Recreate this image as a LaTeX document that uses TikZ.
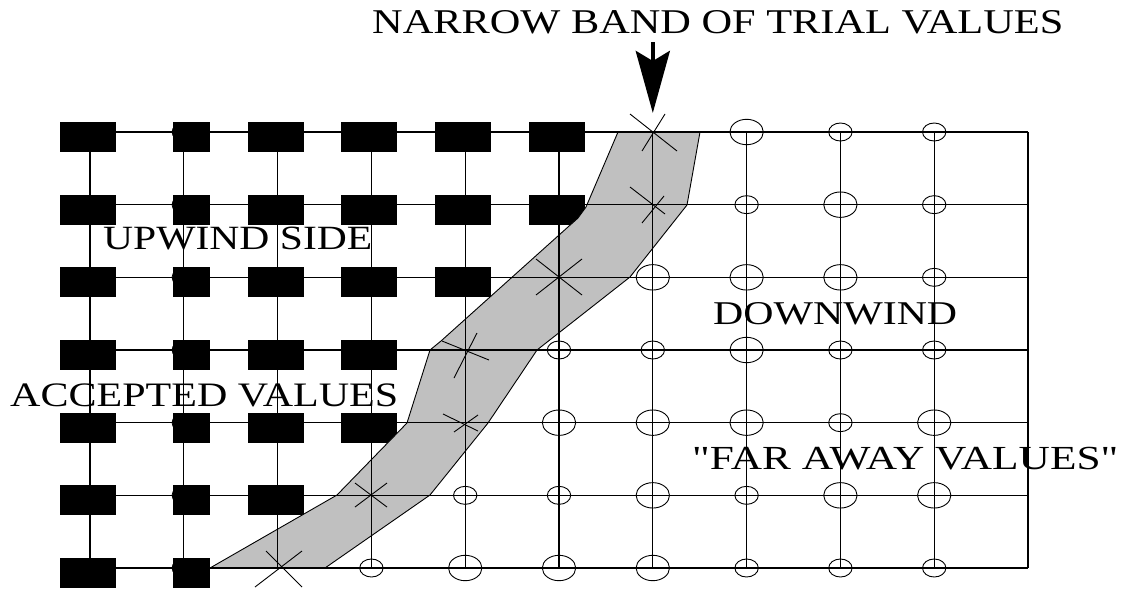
\documentclass[tikz,border=0pt]{standalone}
\usepackage{fontspec}
\usepackage{graphicx}
\setmainfont{Liberation Serif}
% same face without the TeX quote mapping, for straight quotes
\newfontfamily\straightserif{Liberation Serif}
\usetikzlibrary{arrows.meta}
\definecolor{bandgray}{RGB}{192,192,192}
% set a label to a given width and cap height
\newcommand{\fitlabel}[3]{\resizebox{#1pt}{#2pt}{#3}}

\begin{document}
\begin{tikzpicture}[x=1pt,y=-1pt,
  gridline/.style={draw=black,line width=1.1pt},
  farval/.style={draw=black,line width=0.9pt},
  trialmark/.style={draw=black,line width=0.9pt},
  band/.style={fill=bandgray,draw=black,line width=0.9pt},
  lbl/.style={inner sep=0pt,anchor=base west},
  bigarrow/.style={line width=4.5pt,-{Stealth[length=62pt,width=34pt,inset=10pt]}}]

\useasboundingbox (0,0) rectangle (1130,592);

% accepted values: solid blocks (upwind side)
\foreach \r/\n in {1/6,2/6,3/5,4/4,5/4,6/3,7/2}{
  \foreach \c in {1,...,\n}{
    \pgfmathsetmacro\cx{90+(\c-1)*93.8}
    \pgfmathsetmacro\cy{132+(\r-1)*72.667}
    \ifnum\c=2
      \draw[farval] (\cx,\cy) ellipse[x radius=11.7,y radius=9];
      \fill (\cx-11,\cy-10) rectangle (\cx+26,\cy+20);
    \else
      \fill (\cx-30,\cy-10) rectangle (\cx+26,\cy+20);
    \fi
  }
}

% narrow band of trial values
\draw[band] (618,132) -- (586,207) -- (578,218) -- (441,341) -- (430,350)
  -- (407,423) -- (337,495) -- (210,568) -- (325,568) -- (430,495)
  -- (488,423) -- (537,350) -- (630,277) -- (687,205) -- (700,132) -- cycle;

% grid
\foreach \c in {0,...,10}
  \draw[gridline] (90+\c*93.8,132) -- (90+\c*93.8,568);
\foreach \r in {0,...,6}
  \draw[gridline] (90,132+\r*72.667) -- (1028,132+\r*72.667);

% far-away values: open ellipses (L = large, S = small)
\foreach \c/\r/\s in {8/1/L,9/1/S,10/1/S,
                      8/2/S,9/2/L,10/2/S,
                      7/3/L,8/3/L,9/3/L,10/3/S,
                      6/4/S,7/4/S,8/4/L,9/4/S,10/4/S,
                      6/5/L,7/5/L,8/5/L,9/5/S,10/5/L,
                      5/6/S,6/6/S,7/6/L,8/6/S,9/6/L,10/6/L,
                      4/7/S,5/7/L,6/7/L,7/7/L,8/7/S,9/7/S,10/7/S}{
  \pgfmathsetmacro\cx{90+(\c-1)*93.8}
  \pgfmathsetmacro\cy{132+(\r-1)*72.667}
  \if L\s
    \draw[farval] (\cx,\cy) ellipse[x radius=16.7,y radius=12.7];
  \else
    \draw[farval] (\cx,\cy) ellipse[x radius=11.7,y radius=9];
  \fi
}

% trial values: crosses
\foreach \px/\py/\ax/\ay/\bx/\by/\cx/\cy/\dx/\dy in {
  653/132/-23/-18/24/19/12/-18/-11/19,
  653/205/-23/-18/12/9/11/-9/-11/18,
  559/277/-23/-18/23/18/23/-18/-23/18,
  466/351/-24/-10/23/9/11/-18/-12/27,
  466/424/-23/-10/12/7/12/-9/-12/8,
  371/495/-16/-12/16/12/16/-12/-16/12,
  281/567/-15/-16/21/20/21/-16/-26/20}{
  \draw[trialmark] (\px+\ax,\py+\ay) -- (\px+\bx,\py+\by);
  \draw[trialmark] (\px+\cx,\py+\cy) -- (\px+\dx,\py+\dy);
}

% labels
\node[lbl] (title) at (372,33) {\fitlabel{691}{23}{NARROW BAND OF TRIAL VALUES}};
\node[lbl] (upwind) at (103,249) {\fitlabel{269}{22.5}{UPWIND SIDE}};
\node[lbl] (downwind) at (713,324) {\fitlabel{244}{22}{DOWNWIND}};
\node[lbl] (accepted) at (10,406) {\fitlabel{388}{22.7}{ACCEPTED VALUES}};
\node[lbl] (faraway) at (692,469) {\fitlabel{426}{22.3}{\straightserif "FAR AWAY VALUES"}};

% arrow pointing at the band
\coordinate (arrowstart) at (652.8,42);
\coordinate (bandtop) at (652.8,113);
\draw[bigarrow] (arrowstart) -- (bandtop);

\end{tikzpicture}
\end{document}
